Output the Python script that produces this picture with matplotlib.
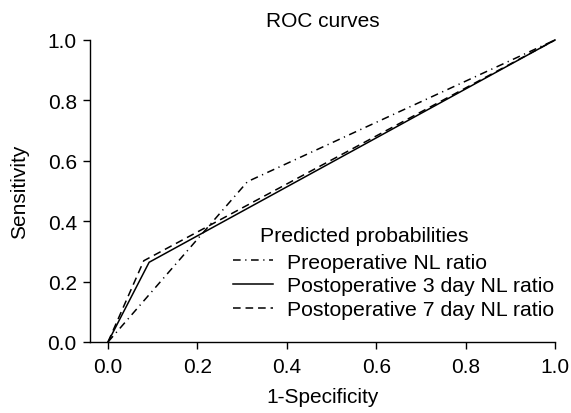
import matplotlib
matplotlib.use('Agg')
import matplotlib.pyplot as plt
from matplotlib.lines import Line2D

plt.rcParams['font.family'] = ['Liberation Sans', 'DejaVu Sans']

# ROC points (1-specificity, sensitivity)
pre_x = [0.0, 0.312, 1.0]
pre_y = [0.0, 0.531, 1.0]
post3_x = [0.0, 0.092, 1.0]
post3_y = [0.0, 0.264, 1.0]
post7_x = [0.0, 0.080, 1.0]
post7_y = [0.0, 0.269, 1.0]

labels = ['Preoperative NL ratio', 'Postoperative 3 day NL ratio',
          'Postoperative 7 day NL ratio']
xticks = [0.0, 0.2, 0.4, 0.6, 0.8, 1.0]
yticks = [0.0, 0.2, 0.4, 0.6, 0.8, 1.0]

fs = 15
fig = plt.figure(figsize=(5.71, 4.14), dpi=100)
ax = fig.add_axes([90/571, 71/414, 465/571, 302/414])

lw = 1.1
ax.plot(pre_x, pre_y, color='black', lw=lw, dashes=(5, 3, 0.8, 3),
        clip_on=False)
ax.plot(post3_x, post3_y, color='black', lw=lw, clip_on=False)
ax.plot(post7_x, post7_y, color='black', lw=lw, dashes=(5, 3.2),
        clip_on=False)

ax.set_xlim(-18/447, 1.0)
ax.set_ylim(0, 1.0)
ax.set_xticks(xticks)
ax.set_yticks(yticks)
ax.set_xticklabels([f'{v:.1f}' for v in xticks])
ax.set_yticklabels([f'{v:.1f}' for v in yticks])
ax.spines['top'].set_visible(False)
ax.spines['right'].set_visible(False)
for s in ['left', 'bottom']:
    ax.spines[s].set_linewidth(1.0)
ax.tick_params(axis='both', direction='out', length=5, width=1.0,
               labelsize=fs)
ax.tick_params(axis='x', pad=6)
ax.tick_params(axis='y', pad=4.5)

ax.set_xlabel('1-Specificity', fontsize=fs, labelpad=8)
ax.set_ylabel('Sensitivity', fontsize=fs, labelpad=13)
ax.set_title('ROC curves', fontsize=fs, pad=10)

handles = [Line2D([], [], color='black', lw=lw, dashes=(5, 3, 0.8, 3)),
           Line2D([], [], color='black', lw=lw),
           Line2D([], [], color='black', lw=lw, dashes=(5, 3.2))]
ax.legend(handles, labels, loc='center left',
          bbox_to_anchor=((233-90)/465, (343-287)/302),
          frameon=False, fontsize=15.3, borderpad=0, borderaxespad=0,
          handlelength=1.9, handletextpad=0.65, labelspacing=0.22)
ax.text((260-90)/465, (343-237)/302, 'Predicted probabilities',
        transform=ax.transAxes, fontsize=15.3, ha='left', va='center')

fig.savefig('out.png', dpi=100)
